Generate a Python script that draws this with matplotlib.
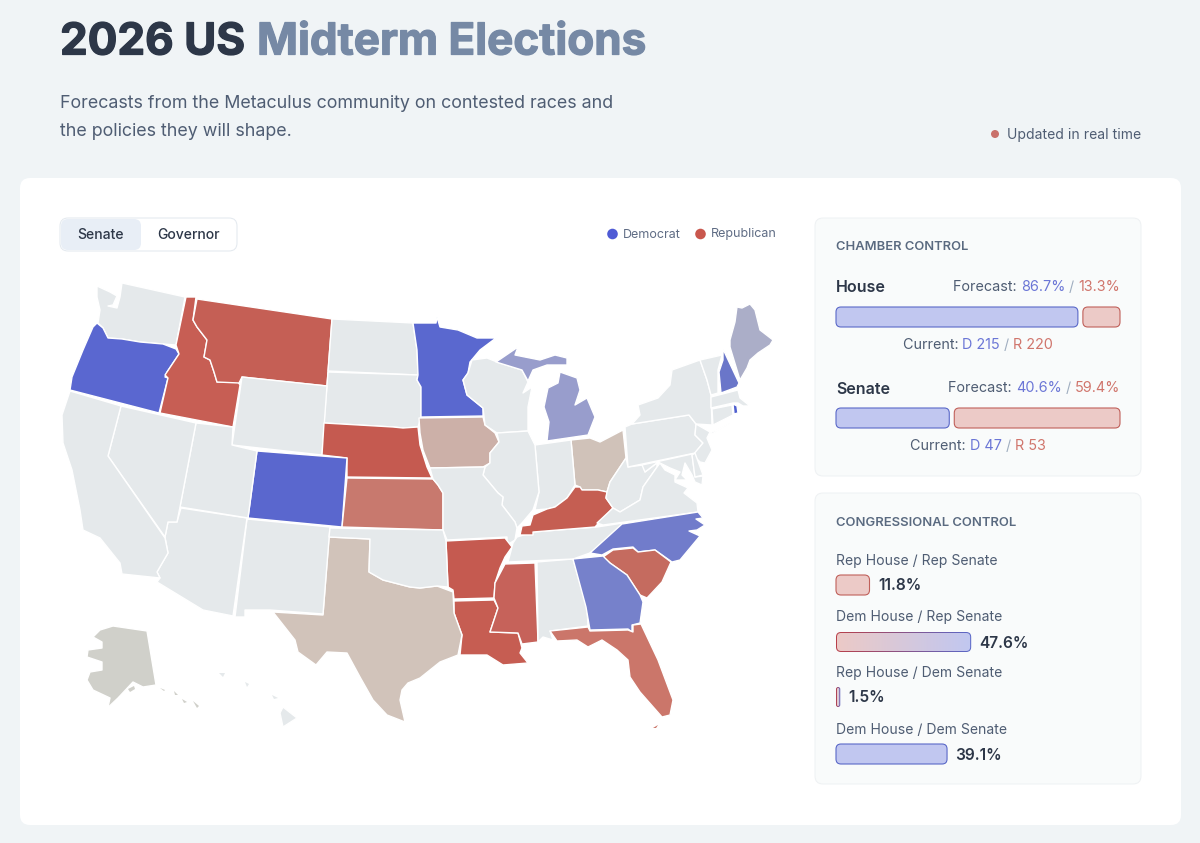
# 2026 midterms dashboard: map on the left, control panels on the right
import matplotlib
matplotlib.use('Agg')
import numpy as np
import matplotlib.pyplot as plt
import matplotlib.patheffects as pe
from matplotlib.patches import FancyBboxPatch, Polygon, Circle

plt.rcParams['font.family'] = ['Inter', 'DejaVu Sans']

# forecasts and seats
house_forecast = [86.7, 13.3]
senate_forecast = [40.6, 59.4]
house_current = [215, 220]
senate_current = [47, 53]
control_labels = ['Rep House / Rep Senate', 'Dem House / Rep Senate',
                  'Rep House / Dem Senate', 'Dem House / Dem Senate']
control_values = [11.8, 47.6, 1.5, 39.1]

# state colours by race rating, anything not listed has no contested race
state_colors = {
    'OR': '#5a67d0', 'MN': '#5a68cf', 'CO': '#5a67ce', 'NH': '#6a76c9', 'NC': '#717ccb',
    'GA': '#7681cb', 'MI': '#989dcc', 'ME': '#abaec8', 'RI': '#4f5fcf',
    'MT': '#c55f55', 'ID': '#c75e54', 'NE': '#c55a50', 'KS': '#c8796e', 'FL': '#cb766a',
    'SC': '#c56b5f', 'KY': '#c55e52', 'AR': '#c55a50', 'LA': '#c65d52', 'MS': '#c6625a',
    'IA': '#ccb0a8', 'OH': '#d0c2b9', 'TX': '#d1c3ba', 'AK': '#d0d0ca',
}
no_race = '#e5e9eb'

# state outlines, in picture pixels
WA = [(97,286),(110,292),(117,296),(113,305),(108,306),(117,308),(120,297),(122,283),(185,297),(176,345),(163,344),(140,342),(122,339),(108,338),(103,328),(98,323),(100,310),(97,297)]
OR = [(97,323),(103,328),(108,338),(122,339),(140,342),(163,344),(176,349),(179,354),(167,372),(165,377),(168,378),(159,413),(70,390),(72,377),(83,350),(93,327)]
ID = [(186,297),(196,297),(193,320),(197,327),(207,340),(204,357),(210,360),(214,372),(217,382),(238,382),(240,385),(233,427),(160,413),(168,378),(165,375),(179,354),(176,345)]
MT = [(197,299),(332,319),(327,386),(242,377),(239,383),(217,382),(214,372),(210,360),(204,357),(207,340),(197,327),(193,320)]
ND = [(332,319),(413,323),(417,350),(418,375),(328,371)]
SD = [(328,372),(418,375),(417,380),(421,387),(421,417),(418,427),(403,428),(393,427),(324,423)]
WY = [(242,377),(327,386),(322,455),(232,445)]
NE = [(324,423),(393,427),(403,428),(418,427),(420,445),(427,467),(432,478),(347,477),(347,458),(322,455)]
CO = [(257,451),(347,458),(342,527),(248,518)]
KS = [(347,478),(433,479),(438,485),(443,493),(443,530),(342,527)]
IA = [(419,418),(483,417),(485,425),(495,433),(499,442),(490,453),(490,463),(483,467),(430,468),(423,450),(420,433)]
MN = [(413,323),(436,323),(437,317),(440,327),(458,330),(477,338),(496,338),(480,350),(470,362),(468,373),(463,380),(467,395),(483,408),(483,416),(421,417),(421,387),(417,380),(418,375),(417,350)]
WI = [(468,373),(472,360),(487,358),(497,362),(522,370),(528,382),(523,393),(532,387),(528,407),(528,431),(497,433),(485,425),(483,408),(467,395),(463,380)]
MI_UP = [(496,362),(518,347),(515,355),(525,357),(540,360),(555,355),(567,358),(567,365),(547,365),(533,370),(528,381),(522,370)]
MI_LP = [(560,372),(577,378),(580,390),(575,405),(587,398),(595,417),(588,435),(547,441),(549,422),(544,407),(548,388),(558,383)]
OH = [(571,440),(590,438),(600,442),(623,430),(626,458),(610,482),(607,492),(598,490),(582,490),(580,487),(575,485)]
IN = [(535,445),(571,440),(575,485),(567,498),(555,507),(547,509),(535,510),(539,492)]
IL = [(497,433),(528,431),(535,445),(539,492),(533,510),(522,523),(517,528),(515,522),(502,505),(503,497),(498,493),(483,475),(485,467),(490,463),(490,453),(499,442)]
MO = [(430,468),(485,467),(483,475),(498,493),(503,497),(502,505),(515,522),(517,528),(515,540),(507,545),(507,537),(447,540),(443,530),(443,493),(438,485),(433,479)]
AR = [(446,541),(505,538),(512,547),(505,557),(500,568),(495,583),(494,598),(454,599),(453,590),(448,587)]
LA = [(454,601),(494,600),(498,608),(490,632),(518,633),(522,648),(520,653),(528,663),(503,665),(487,655),(460,655),(462,635),(454,613)]
MS = [(505,564),(535,563),(538,642),(522,644),(518,633),(490,632),(498,608),(494,598),(495,583)]
AL = [(537,562),(573,559),(587,607),(588,626),(550,631),(553,640),(543,637),(538,642)]
TN = [(513,543),(517,537),(533,532),(597,527),(623,523),(613,537),(590,553),(573,559),(508,562),(512,547)]
KY = [(520,535),(522,526),(530,525),(533,515),(547,509),(555,507),(567,498),(575,487),(580,487),(582,490),(598,490),(607,492),(606,498),(613,508),(595,527),(533,532),(533,535)]
WV = [(628,467),(643,465),(645,472),(657,463),(657,467),(643,487),(640,500),(620,512),(613,508),(606,498),(607,492),(610,482),(626,458)]
VA = [(613,508),(620,512),(640,500),(643,487),(657,467),(660,463),(665,470),(675,475),(675,482),(688,488),(684,493),(697,503),(698,512),(603,525),(597,523)]
PA = [(625,427),(632,424),(689,415),(696,424),(695,435),(703,443),(695,453),(628,467)]
NY = [(632,424),(640,415),(638,405),(658,398),(670,385),(672,370),(700,360),(707,380),(711,395),(712,425),(696,424),(689,415)]
LI = [(710,433),(730,423),(712,434)]
NJ = [(696,424),(710,432),(707,438),(712,450),(705,463),(700,462),(693,455),(703,443),(695,435)]
MD = [(642,465),(692,454),(695,477),(703,476),(702,485),(695,482),(692,475),(685,463),(682,475),(687,480),(675,480),(680,472),(670,468),(658,462),(645,472)]
DE = [(692,455),(695,453),(703,475),(695,477)]
NC = [(590,553),(622,524),(698,512),(703,518),(696,519),(705,525),(697,530),(689,531),(700,536),(695,542),(680,560),(672,562),(655,550),(638,552),(633,547),(613,549),(602,555)]
SC = [(603,557),(613,550),(633,548),(638,552),(655,550),(671,562),(662,582),(647,598),(640,595),(627,575),(610,563)]
GA = [(573,559),(603,556),(610,563),(627,575),(640,595),(643,602),(640,623),(632,625),(632,632),(628,629),(590,630),(586,607)]
FL = [(550,631),(588,627),(590,631),(628,630),(633,632),(633,625),(641,624),(658,660),(673,700),(670,715),(662,717),(640,692),(630,677),(628,660),(617,650),(602,640),(588,647),(577,640),(557,641)]
TX = [(329,537),(370,539),(369,572),(383,580),(410,587),(420,588),(437,586),(453,592),(454,613),(462,635),(458,655),(440,662),(420,678),(408,683),(402,690),(400,700),(405,722),(387,715),(373,700),(360,677),(347,653),(327,652),(316,665),(298,652),(295,640),(273,612),(323,615)]
NM = [(247,519),(330,527),(323,614),(270,610),(245,610),(245,617),(235,617)]
OK = [(330,528),(443,530),(446,541),(448,587),(437,586),(420,588),(410,587),(383,580),(369,572),(370,539),(329,537)]
AZ = [(181,508),(247,518),(233,616),(203,610),(157,582),(160,578),(157,572),(168,553),(165,537),(168,522),(177,522)]
UT = [(196,423),(233,427),(232,445),(257,451),(248,518),(180,507)]
NV = [(121,406),(196,423),(180,507),(177,522),(168,522),(165,537),(108,456)]
CA = [(70,391),(121,406),(108,456),(165,538),(168,553),(157,572),(160,578),(122,574),(120,563),(100,538),(83,530),(80,510),(72,470),(63,443),(62,415)]
AK = [(113,626),(147,631),(156,685),(143,687),(133,682),(118,698),(100,715),(108,707),(110,698),(93,690),(87,680),(90,672),(102,670),(102,662),(87,657),(88,650),(102,648),(102,642),(93,637),(100,630)]
HI = [(283,707),(297,718),(283,727),(280,713)]
VT = [(700,360),(722,355),(718,370),(718,393),(711,395),(707,380)]
NH = [(723,349),(739,383),(737,387),(721,393),(719,372),(723,360)]
ME = [(730,347),(730,340),(735,322),(737,307),(742,308),(750,304),(755,310),(760,330),(773,340),(770,345),(758,353),(750,360),(747,368),(740,380)]
MA = [(711,397),(738,390),(740,398),(750,406),(743,406),(738,403),(733,403),(711,408)]
CT = [(712,409),(732,405),(733,415),(713,425)]
RI = [(733,404),(737,406),(738,413),(734,414)]

outlines = [('WA', WA), ('OR', OR), ('ID', ID), ('MT', MT), ('ND', ND), ('SD', SD), ('WY', WY), ('NE', NE),
            ('CO', CO), ('KS', KS), ('IA', IA), ('MN', MN), ('WI', WI), ('MI', MI_UP), ('MI', MI_LP), ('OH', OH),
            ('IN', IN), ('IL', IL), ('MO', MO), ('AR', AR), ('LA', LA), ('MS', MS), ('AL', AL), ('TN', TN),
            ('KY', KY), ('WV', WV), ('VA', VA), ('PA', PA), ('NY', NY), ('NY', LI), ('NJ', NJ), ('MD', MD),
            ('DE', DE), ('NC', NC), ('SC', SC), ('GA', GA), ('FL', FL), ('TX', TX), ('NM', NM),
            ('OK', OK), ('AZ', AZ), ('UT', UT), ('NV', NV), ('CA', CA), ('AK', AK), ('HI', HI),
            ('VT', VT), ('NH', NH), ('ME', ME), ('MA', MA), ('CT', CT), ('RI', RI)]

# small islands, drawn without a border
islands = [('FL', [(653,728),(658,725),(656,728)]),
           ('AK', [(128,689),(134,686),(135,689),(130,692)]),
           ('AK', [(160,688),(165,690),(164,691)]),
           ('AK', [(174,691),(178,695),(175,695)]),
           ('AK', [(182,699),(187,702),(184,703)]),
           ('AK', [(193,701),(199,706),(197,708)]),
           ('HI', [(219,673),(225,673),(223,677)]),
           ('HI', [(245,682),(249,684),(247,687)]),
           ('HI', [(272,695),(278,698),(274,699)])]

DEM = '#6b76d6'
REP = '#d0756c'
SLASH = '#a0aec0'
INK = '#2d3748'
MUTED = '#4f5d73'
PX = 0.72  # font size in pt for one css pixel at dpi 100

fig = plt.figure(figsize=(12, 8.43), dpi=100, facecolor='#f0f4f6')
ax = fig.add_axes([0, 0, 1, 1])
ax.set_xlim(0, 1200)
ax.set_ylim(843, 0)
ax.axis('off')


def box(x0, y0, x1, y1, r, fc, ec='none', lw=0.7, z=1):
    p = FancyBboxPatch((x0 + r, y0 + r), x1 - x0 - 2 * r, y1 - y0 - 2 * r,
                       boxstyle='round,pad=%f,rounding_size=%f' % (r, r),
                       fc=fc, ec=ec, lw=lw, zorder=z)
    ax.add_patch(p)
    return p


def row(x, y, parts, size, ha='left', weight='normal'):
    # several colours on one line, laid out from the measured widths
    r = fig.canvas.get_renderer()
    items = [ax.text(0, y, s, color=c, fontsize=size * PX, va='center', weight=weight, zorder=5)
             for s, c in parts]
    widths = []
    for s, t in zip(parts, items):
        # measure with full stops so trailing spaces still count
        t.set_text('.' + s[0] + '.')
        w1 = t.get_window_extent(r).width
        t.set_text('..')
        w2 = t.get_window_extent(r).width
        t.set_text(s[0])
        widths.append(w1 - w2)
    total = sum(widths)
    pos = x - total if ha == 'right' else x - total / 2 if ha == 'center' else x
    for t, w in zip(items, widths):
        t.set_x(pos)
        pos += w


def gradient_fill(x0, y0, x1, y1, r, left, right, z):
    # imshow clipped to a rounded box
    colors = matplotlib.colors.to_rgb(left), matplotlib.colors.to_rgb(right)
    t = np.linspace(0, 1, 64)[:, None]
    img = ((1 - t) * np.array(colors[0]) + t * np.array(colors[1]))[None, :, :]
    im = ax.imshow(img, extent=(x0, x1, y1, y0), aspect='auto', interpolation='bilinear', zorder=z)
    clip = box(x0, y0, x1, y1, r, 'none', ec='none', z=z)
    im.set_clip_path(clip)


# header
for x, s, c in [(60, '2026 US', INK), (257, 'Midterm Elections', '#7689a5')]:
    t = ax.text(x, 43, s, color=c, fontsize=44 * PX, va='center', weight='bold', zorder=5)
    t.set_path_effects([pe.withStroke(linewidth=0.9, foreground=c)])
ax.text(60.5, 104, 'Forecasts from the Metaculus community on contested races and',
        fontsize=17.85 * PX, color=MUTED, va='center')
ax.text(60.5, 132, 'the policies they will shape.', fontsize=17.85 * PX, color=MUTED, va='center')
ax.add_patch(Circle((995, 134), 4, fc='#c9706a', ec='none'))
ax.text(1007, 135, 'Updated in real time', fontsize=14 * PX, color=MUTED, va='center')

# main card
box(20, 178, 1181, 825, 10, 'white')

# toggle
box(60, 218, 237, 251, 8, 'white', ec='#e2e8ee')
box(61, 219, 141, 250, 7, '#e8eef6')
ax.text(101, 235, 'Senate', fontsize=14 * PX, color=INK, ha='center', va='center', weight='medium', zorder=5)
ax.text(188, 235, 'Governor', fontsize=14 * PX, color=INK, ha='center', va='center', weight='medium', zorder=5)

# legend
ax.add_patch(Circle((612.5, 234), 5.3, fc='#4f5bd5', ec='none'))
ax.text(623, 234.5, 'Democrat', fontsize=12.5 * PX, color='#5f6c84', va='center')
ax.add_patch(Circle((700.5, 234), 5.3, fc='#c9574d', ec='none'))
ax.text(711, 234.5, 'Republican', fontsize=12.5 * PX, color='#5f6c84', va='center')

# map
for code, pts in outlines:
    ax.add_patch(Polygon(pts, closed=True, fc=state_colors.get(code, no_race), ec='white',
                         lw=1.0, joinstyle='round', zorder=2))
for code, pts in islands:
    ax.add_patch(Polygon(pts, closed=True, fc=state_colors.get(code, no_race), ec='none', zorder=2))

# chamber panel
box(815, 218, 1141, 476, 8, '#f9fbfb', ec='#eef1f3')
box(815, 493, 1141, 784, 8, '#f9fbfb', ec='#eef1f3')
ax.text(836, 247.5, 'CHAMBER CONTROL', fontsize=12.9 * PX, color='#5a6a80', va='center', weight='semibold', zorder=5)
ax.text(836, 523.5, 'CONGRESSIONAL CONTROL', fontsize=13 * PX, color='#5a6a80', va='center', weight='semibold', zorder=5)

track_x0, track_x1, gap = 836, 1120, 5
chambers = [('House', house_forecast, house_current, 288, 307),
            ('Senate', senate_forecast, senate_current, 389, 408)]
for name, fc, cur, y_label, y_bar in chambers:
    ax.text(836, y_label, name, fontsize=16 * PX, color=INK, va='center', weight='semibold', zorder=5)
    row(1120, y_label - 1, [('Forecast: ', MUTED), ('%.1f%%' % fc[0], DEM), (' / ', SLASH), ('%.1f%%' % fc[1], REP)], 14.4, ha='right')
    w_d = (track_x1 - track_x0 - gap) * fc[0] / 100
    box(track_x0, y_bar, track_x0 + w_d, y_bar + 20, 5, '#c1c7f0', ec='#5a68c8', lw=0.8, z=4)
    box(track_x0 + w_d + gap, y_bar, track_x1, y_bar + 20, 5, '#eccac7', ec='#c0605a', lw=0.8, z=4)
    row(978, y_bar + 38, [('Current: ', MUTED), ('D %d' % cur[0], DEM), (' / ', SLASH), ('R %d' % cur[1], REP)], 14.4, ha='center')

# congressional control bars
bar_scale = 2.84
y_labels = [561, 617, 673, 730]
y_bars = [575, 632, 687, 744]
fills = [('#eccac7', '#c0605a'), (None, None), (None, None), ('#c1c7f0', '#5a68c8')]
for lab, val, yl, yb, (fc, ec) in zip(control_labels, control_values, y_labels, y_bars, fills):
    w = val * bar_scale
    ax.text(836, yl, lab, fontsize=14 * PX, color=MUTED, va='center', zorder=5)
    r = min(5, w / 2)
    if fc is None:
        # red to blue blend for the split outcomes, border first then the fill inside it
        gradient_fill(836, yb, 836 + w, yb + 20, r, '#b8404a', '#5a68c8', 4)
        gradient_fill(837, yb + 1, 836 + w - 1, yb + 19, max(r - 1, 0.5), '#eccac7', '#c1c7f0', 4.5)
    else:
        box(836, yb, 836 + w, yb + 20, r, fc, ec=ec, lw=0.8, z=4)
    ax.text(836 + w + 8.5, yb + 11, '%.1f%%' % val, fontsize=15.5 * PX, color=INK, va='center', weight='semibold', zorder=5)

ax.set_xlim(0, 1200)
ax.set_ylim(843, 0)
fig.savefig('out.png', dpi=100, facecolor=fig.get_facecolor())
